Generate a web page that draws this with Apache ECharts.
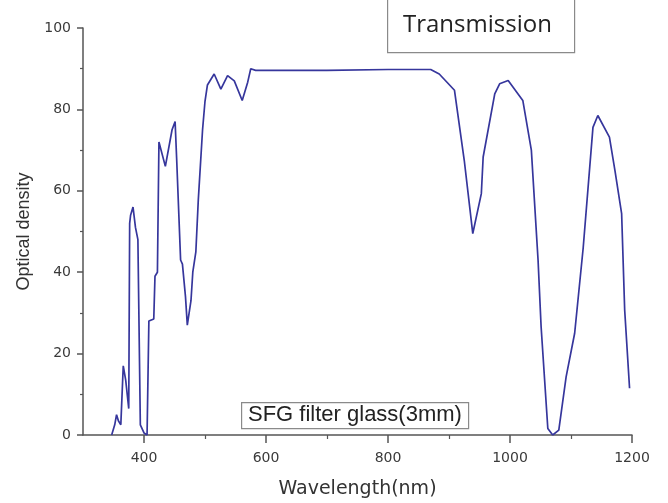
<!DOCTYPE html>
<html>
<head>
<meta charset="utf-8">
<script src="https://cdn.jsdelivr.net/npm/echarts@6/dist/echarts.min.js"></script>
<style>html,body{margin:0;padding:0;background:#fff;}#c{width:668px;height:503px;}</style>
</head>
<body>
<div id="c"></div>
<script>
var wavelengths = [347,352,355,358,362,366,370,375,376.5,378,382,386,390,394,400,405,408,416,418,422,424.5,435,446,451,453.5,460,463,468,471,477,480,485,489,496,500,504,515,526,537,548,561,570,575,583,700,800,870,884,909,925,939,953,956,975,983,997,1021,1035,1046,1051,1062,1070,1080,1092,1106,1120,1136,1144,1163,1172,1183,1188,1196];
var density =     [0,2.5,5,3.5,2.5,17,13.5,6.5,52,54,56,51,48,2.5,0.5,0,28,28.5,39,40,72,66,75,77,68,43,42,34,27,33,40,45,57.7,75,82,86,88.7,85,88.3,87,82.2,86.7,90,89.6,89.6,89.8,89.8,88.7,84.7,67.5,49.5,59.3,68.3,83.8,86.3,87.1,82.2,70,43,26.6,1.6,0,1.2,14.3,25,46,75.6,78.5,73.2,65,54.4,30.7,11.5];
var xMajorTicks = [400,600,800,1000,1200];
var xMinorTicks = [500,700,900,1100];
var legendText = 'Transmission';
var noteText = 'SFG filter glass(3mm)';
var xName = 'Wavelength(nm)';
var yName = 'Optical density';

var points = wavelengths.map(function(w,i){return [w, density[i]];});
var chart = echarts.init(document.getElementById('c'));
var axisColor = '#555';
chart.setOption({
  animation:false,
  backgroundColor:'#fff',
  grid:{left:83,right:36,top:28,bottom:68,containLabel:false,outerBoundsMode:'none'},
  xAxis:[{
    type:'value', min:300, max:1200, position:'bottom',
    name:xName, nameLocation:'middle', nameGap:45,
    nameTextStyle:{fontFamily:'DejaVu Sans',fontSize:19,color:'#333'},
    axisLine:{show:true,lineStyle:{color:axisColor,width:1.5}},
    axisTick:{show:true,customValues:xMajorTicks,length:8,lineStyle:{color:axisColor,width:1.5}},
    axisLabel:{show:true,customValues:xMajorTicks,margin:16,fontFamily:'DejaVu Sans',fontSize:14,color:'#3a3a3a',formatter:function(v){return String(v);}},
    splitLine:{show:false}
  },{
    type:'value', min:300, max:1200, position:'bottom', offset:0,
    axisLine:{show:false},
    axisTick:{show:true,customValues:xMinorTicks,length:4,lineStyle:{color:axisColor,width:1.2}},
    axisLabel:{show:false},
    splitLine:{show:false}
  }],
  yAxis:{
    type:'value', min:0, max:100, interval:20,
    name:yName, nameLocation:'middle', nameGap:50,
    nameTextStyle:{fontFamily:'Liberation Sans',fontSize:18,color:'#333'},
    axisLine:{show:true,lineStyle:{color:axisColor,width:1.5}},
    axisTick:{show:true,length:6,lineStyle:{color:axisColor,width:1.5}},
    minorTick:{show:true,splitNumber:2,length:3,lineStyle:{color:axisColor,width:1.2}},
    axisLabel:{margin:12,fontFamily:'DejaVu Sans',fontSize:14,color:'#3a3a3a'},
    splitLine:{show:false}
  },
  series:[{
    type:'line', data:points, showSymbol:false, symbol:'none',
    lineStyle:{color:'#36369c',width:1.7}, z:3
  }],
  graphic:[
    {type:'rect',left:387,top:-5,shape:{width:187,height:57},style:{fill:'#fff',stroke:'#8a8a8a',lineWidth:1.2},z:10},
    {type:'text',left:403,top:13,style:{text:legendText,font:'24px "Open Sans"',fill:'#222'},z:11},
    {type:'rect',left:241,top:402,shape:{width:227,height:26},style:{fill:'#fff',stroke:'#8a8a8a',lineWidth:1.2},z:10},
    {type:'text',left:248,top:404,style:{text:noteText,font:'22px "Liberation Sans"',fill:'#222'},z:11}
  ]
});
</script>
</body>
</html>
